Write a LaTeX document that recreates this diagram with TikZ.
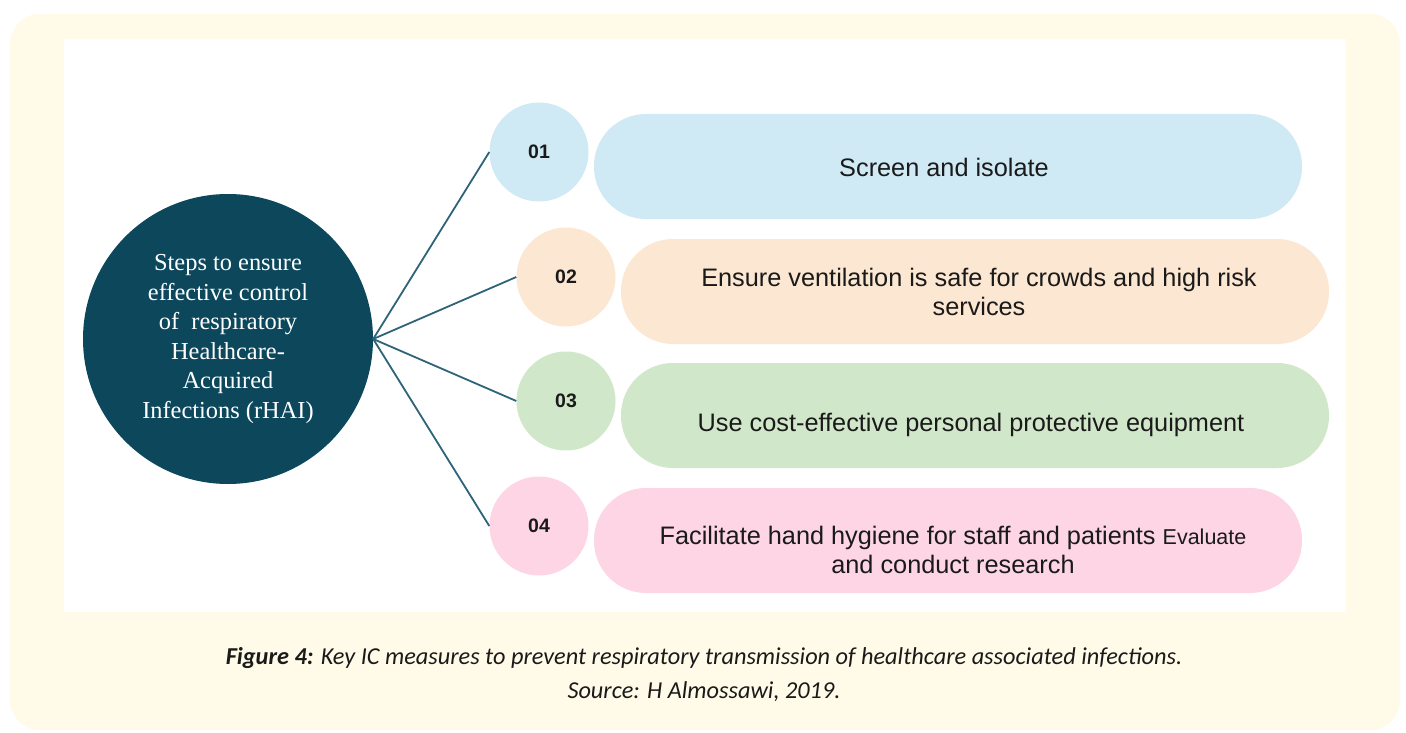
\documentclass[tikz,border=0pt]{standalone}
\usepackage{fontspec}
\setmainfont{Liberation Sans}
\newfontfamily\tnrfont{Liberation Serif}
\newfontfamily\capfont{Carlito}
\definecolor{cream}{HTML}{FFFBE8}
\definecolor{hubteal}{HTML}{0C475C}
\definecolor{linkteal}{HTML}{2E6478}
\definecolor{pblue}{HTML}{D0EAF5}
\definecolor{ppeach}{HTML}{FCE7D2}
\definecolor{pgreen}{HTML}{D1E7CA}
\definecolor{ppink}{HTML}{FDD5E4}
\definecolor{ink}{HTML}{1A1A1A}
\tikzset{
  numdot/.style={circle, minimum size=99pt, inner sep=0pt, text=ink, font=\bfseries\fontsize{19.5}{22}\selectfont},
  pill/.style={rectangle, rounded corners=52pt, minimum width=708pt, minimum height=105pt, inner sep=0pt},
  pilltext/.style={text=ink, align=center, font=\fontsize{25.3}{29.5}\selectfont},
  link/.style={draw=linkteal, line width=1.8pt},
  captext/.style={text=ink, font=\capfont\itshape\fontsize{24.3}{28}\selectfont},
}
\begin{document}
\begin{tikzpicture}[x=1pt,y=-1pt]
\useasboundingbox (0,0) rectangle (1406,733);
\fill[white] (0,0) rectangle (1406,733);
\fill[cream, rounded corners=30pt] (10,14) rectangle (1400,730);
\fill[white] (64,39) rectangle (1346,612);

\node[circle, fill=hubteal, minimum size=290pt, inner sep=0pt, text=white, align=center,
      font=\tnrfont\fontsize{24.4}{29.6}\selectfont] (hub) at (228,339)
  {Steps to ensure\\effective control\\of~ respiratory\\Healthcare-\\Acquired\\Infections (rHAI)};

\node[numdot, fill=pblue]  (n1) at (539,152) {01};
\node[numdot, fill=ppeach] (n2) at (566,277) {02};
\node[numdot, fill=pgreen] (n3) at (566,401) {03};
\node[numdot, fill=ppink]  (n4) at (539,526) {04};

\draw[link] (hub.east) -- (n1.west);
\draw[link] (hub.east) -- (n2.west);
\draw[link] (hub.east) -- (n3.west);
\draw[link] (hub.east) -- (n4.west);

\node[pill, fill=pblue]  (p1) at (948,166.5) {};
\node[pill, fill=ppeach] (p2) at (975,291.5) {};
\node[pill, fill=pgreen] (p3) at (975,415.5) {};
\node[pill, fill=ppink]  (p4) at (948,540.5) {};

\node[pilltext] (t1) at (944,167) {Screen and isolate};
\node[pilltext] (t2) at (979,292) {Ensure ventilation is safe for crowds and high risk\\services};
\node[pilltext] (t3) at (971,425) {Use cost-effective personal protective equipment};
\node[pilltext] (t4) at (953,550) {Facilitate hand hygiene for staff and patients {\fontsize{21.5}{29.5}\selectfont Evaluate}\\and conduct research};

\node[captext] (cap1) at (704,658)
  {\textbf{Figure 4:} Key IC measures to prevent respiratory transmission of healthcare associated infections.};
\node[captext] (cap2) at (704,692)
  {Source: H Almossawi, 2019.};
\end{tikzpicture}
\end{document}
